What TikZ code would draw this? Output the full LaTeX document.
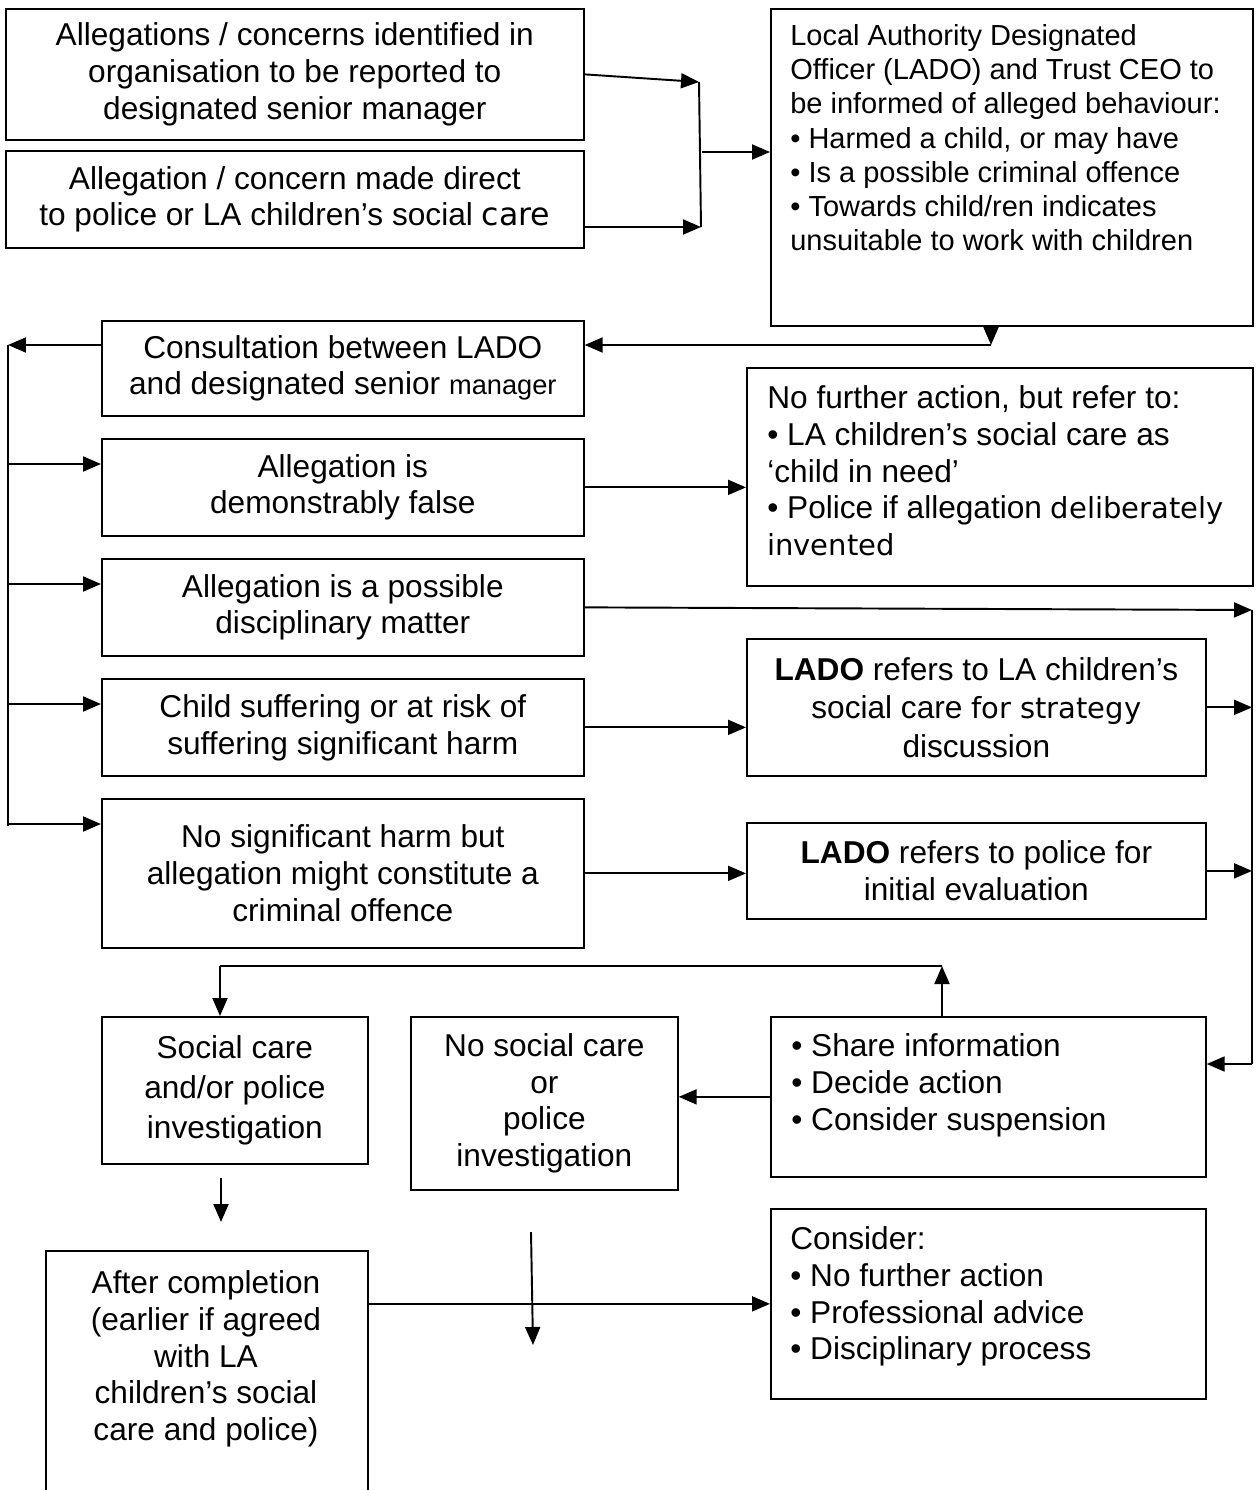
\documentclass[tikz,border=0pt]{standalone}
\usepackage{fontspec}
\setmainfont{Liberation Sans}
\newfontfamily\altfont{DejaVu Sans}
\usetikzlibrary{arrows.meta,calc}
\newcommand{\altword}[2][16.5]{{\altfont\fontsize{#1}{21}\selectfont #2}}

\begin{document}
\begin{tikzpicture}[x=0.02cm, y=-0.02cm,
    box/.style={draw, line width=1pt, anchor=north west, inner sep=0pt, align=center,
      font=\fontsize{18}{21}\selectfont},
    txt/.style={anchor=north west, inner sep=0pt, align=left, font=\fontsize{18}{21}\selectfont},
    arr/.style={line width=1.1pt, -{Triangle[length=0.36cm,width=0.3cm]}},
    bus/.style={line width=1.1pt}]
  \useasboundingbox (0,0) rectangle (1255,1490);
  \clip (0,0) rectangle (1255,1490);
  % boxes
  \node[box, minimum width=11.56cm, minimum height=2.62cm] (report) at (5,8)
    {Allegations / concerns identified in\\organisation to be reported to\\designated senior manager};
  \node[box, minimum width=11.56cm, minimum height=1.94cm] (direct) at (5,150)
    {Allegation / concern made direct\\to police or LA children’s social \altword[18]{care}};
  \node[box, minimum width=9.64cm, minimum height=6.34cm] (lado) at (770,8) {};
  \node[txt, font=\fontsize{16.5}{19.5}\selectfont] (ladotext) at (790,24)
    {Local Authority Designated\\Officer (LADO) and Trust CEO to\\be informed of alleged behaviour:\\%
     • Harmed a child, or may have\\• Is a possible criminal offence\\• Towards child/ren indicates\\%
     unsuitable to work with children};
  \node[box, minimum width=9.64cm, minimum height=1.9cm] (consult) at (101,320)
    {Consultation between LADO\\and designated senior {\fontsize{15.5}{21}\selectfont manager}};
  \node[box, minimum width=10.12cm, minimum height=4.36cm] (nfa) at (746,367) {};
  \node[txt] (nfatext) at (767,385)
    {No further action, but refer to:\\• LA children’s social care as\\‘child in need’\\%
     • Police if allegation \altword{deliberately}\\\altword{invented}};
  \node[box, minimum width=9.64cm, minimum height=1.94cm] (falsebox) at (101,438)
    {Allegation is\\demonstrably false};
  \node[box, minimum width=9.64cm, minimum height=1.94cm] (discip) at (101,558)
    {Allegation is a possible\\disciplinary matter};
  \node[box, minimum width=9.64cm, minimum height=1.94cm] (harm) at (101,678)
    {Child suffering or at risk of\\suffering significant harm};
  \node[box, minimum width=9.64cm, minimum height=2.98cm] (crime) at (101,798)
    {No significant harm but\\allegation might constitute a\\criminal offence};
  \node[box, minimum width=9.18cm, minimum height=2.74cm, font=\fontsize{18}{22}\selectfont] (strategy) at (746,638)
    {\textbf{LADO} refers to LA children’s\\social care \altword{for strategy}\\discussion};
  \node[box, minimum width=9.18cm, minimum height=1.92cm] (evaluate) at (746,822)
    {\textbf{LADO} refers to police for\\initial evaluation};
  \node[box, minimum width=8.7cm, minimum height=3.2cm] (share) at (770,1016) {};
  \node[txt] (sharetext) at (791,1033)
    {• Share information\\• Decide action\\• Consider suspension};
  \node[box, minimum width=5.32cm, minimum height=2.94cm, font=\fontsize{18}{22.8}\selectfont] (invest) at (101,1016)
    {Social care\\and/or police\\investigation};
  \node[box, minimum width=5.34cm, minimum height=3.46cm] (noinvest) at (410,1016)
    {No social care\\or\\police\\investigation};
  \node[box, minimum width=6.44cm, minimum height=5.6cm] (after) at (45,1250) {};
  \node[txt, anchor=north, align=center] (aftertext) at (206,1270)
    {After completion\\(earlier if agreed\\with LA\\children’s social\\care and police)};
  \node[box, minimum width=8.7cm, minimum height=3.8cm] (consider) at (770,1208) {};
  \node[txt] (considertext) at (790,1226)
    {Consider:\\• No further action\\• Professional advice\\• Disciplinary process};
  % junctions
  \coordinate (j1) at (699,82);
  \coordinate (j2) at (701,227);
  \coordinate (j3) at (702,152);
  \coordinate (l1) at (991,345);
  \coordinate (b1) at (8,345);
  \coordinate (b2) at (8,826);
  \coordinate (r1) at (1252,610);
  \coordinate (r2) at (1252,1064);
  \coordinate (t1) at (942,966);
  \coordinate (t2) at (220,966);
  \coordinate (d1) at (221,1178);
  \coordinate (d2) at (221,1222);
  \coordinate (d3) at (531,1232);
  \coordinate (d4) at (533,1345);
  \begin{scope}[arr]
    \draw (report.east) -- (j1);
    \draw (direct.east |- j2) -- (j2);
    \draw (j3) -- (lado.west |- j3);
    \draw (lado.south -| l1) -- (l1);
    \draw (l1) -- (consult.east |- l1);
    \draw (consult.west |- b1) -- (b1);
    \foreach \n in {falsebox,discip,harm,crime}
      \draw ($(\n.north west -| b1)+(0,26)$) -- ($(\n.north west)+(0,26)$);
    \draw (falsebox.east) -- (nfa.west |- falsebox.east);
    \draw (discip.east) -- (r1);
    \draw (harm.east) -- (strategy.west |- harm.east);
    \draw (crime.east) -- (evaluate.west |- crime.east);
    \draw (strategy.east) -- (r1 |- strategy.east);
    \draw (evaluate.east) -- (r1 |- evaluate.east);
    \draw (r2) -- (share.east |- r2);
    \draw (share.north -| t1) -- (t1);
    \draw (t2) -- (invest.north -| t2);
    \draw (share.west) -- (noinvest.east |- share.west);
    \draw (d1) -- (d2);
    \draw (d3) -- (d4);
    \draw (after.east |- consider.west) -- (consider.west);
  \end{scope}
  \begin{scope}[bus]
    \draw (j1) -- (j2);
    \draw (b1) -- (b2);
    \draw (r1) -- (r2);
    \draw (t1) -- (t2);
  \end{scope}
\end{tikzpicture}
\end{document}
